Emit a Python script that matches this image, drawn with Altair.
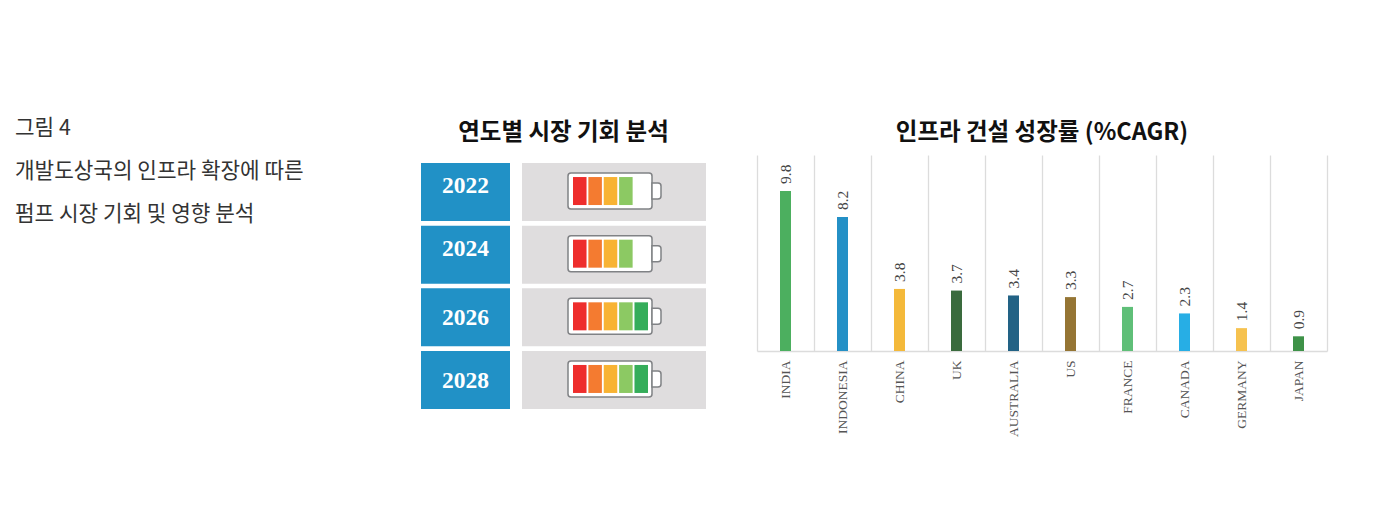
import altair as alt
import pandas as pd

note_lines = ["그림 4", "개발도상국의 인프라 확장에 따른", "펌프 시장 기회 및 영향 분석"]
years = ["2022", "2024", "2026", "2028"]
levels = [4, 4, 5, 5]
segment_ids = [1, 2, 3, 4, 5]
segment_colors = ["#EE2D2C", "#F47B30", "#F8B333", "#8CC963", "#35AD5A"]
countries = ["INDIA", "INDONESIA", "CHINA", "UK", "AUSTRALIA", "US", "FRANCE", "CANADA", "GERMANY", "JAPAN"]
growth = [9.8, 8.2, 3.8, 3.7, 3.4, 3.3, 2.7, 2.3, 1.4, 0.9]
bar_colors = ["#4CAF5F", "#2490C6", "#F4B93A", "#3A6B3D", "#226285", "#957534", "#5FBF78", "#27AEE5", "#F6C24F", "#3E9248"]

KR = "Noto Sans CJK KR"
SERIF = "Liberation Serif"

# left note
note_df = pd.DataFrame({"line": list(range(len(note_lines))), "text": note_lines})
note = alt.Chart(note_df).mark_text(
    font=KR, fontSize=21.3, color="#333333", align="left", baseline="middle"
).encode(
    x=alt.value(7),
    y=alt.Y("line:O", axis=None, scale=alt.Scale(type="point", range=[-26, 60], padding=0)),
    text="text:N",
).properties(width=362, height=254)

# battery panel
year_df = pd.DataFrame({"year": years, "level": levels})
seg_df = pd.DataFrame(
    [{"year": y, "segment": s} for y, n in zip(years, levels) for s in segment_ids[:n]]
)
row_scale = alt.Scale(type="band", domain=years, range=[8, 254], paddingInner=0.073, paddingOuter=0)
Y = alt.Y("year:O", axis=None, scale=row_scale)

base = alt.Chart(year_df)
blue = base.mark_bar(color="#2191C6").encode(x=alt.value(0), x2=alt.value(89), y=Y)
gray = base.mark_bar(color="#DFDDDE").encode(x=alt.value(101), x2=alt.value(285), y=Y)
body = base.mark_bar(height=36, yOffset=-1, cornerRadius=3, fill="#FFFFFF", stroke="#808285", strokeWidth=1.5).encode(
    x=alt.value(147), x2=alt.value(231), y=Y
)
cap = base.mark_bar(height=16, yOffset=-1, cornerRadiusTopRight=3, cornerRadiusBottomRight=3,
                    fill="#FFFFFF", stroke="#808285", strokeWidth=1.5).encode(
    x=alt.value(231), x2=alt.value(240), y=Y
)
segments = alt.Chart(seg_df).mark_bar(height=28, yOffset=-1).encode(
    x=alt.X("segment:O", axis=None,
            scale=alt.Scale(type="band", domain=segment_ids, range=[152, 227], paddingInner=0.12, paddingOuter=0)),
    y=Y,
    color=alt.Color("segment:O", legend=None, scale=alt.Scale(domain=segment_ids, range=segment_colors)),
)
label_style = dict(font=SERIF, fontSize=23.5, fontWeight="bold", color="#FFFFFF", align="center", baseline="middle")
labels_hi = alt.Chart(year_df[year_df.year.isin(["2022", "2024"])]).mark_text(dy=-6, **label_style).encode(
    x=alt.value(44.5), y=Y, text="year:N")
labels_lo = alt.Chart(year_df[year_df.year.isin(["2026", "2028"])]).mark_text(dy=1, **label_style).encode(
    x=alt.value(44.5), y=Y, text="year:N")

title_style = dict(font=KR, fontSize=23.5, fontWeight="bold", color="#111111", anchor="middle", offset=11)
battery = alt.layer(blue, gray, body, cap, segments, labels_hi, labels_lo).resolve_scale(color="independent").properties(
    width=285, height=254, title=alt.Title("연도별 시장 기회 분석", **title_style)
)

# growth bars
bar_df = pd.DataFrame({"country": countries, "growth": growth})
X = alt.X("country:N", sort=countries, title=None, scale=alt.Scale(paddingInner=0, paddingOuter=0),
          axis=alt.Axis(grid=True, gridColor="#DCDCDC", gridWidth=1.3, tickBand="extent", ticks=False,
                        domainColor="#DCDCDC", domainWidth=1.3, labelAngle=270, labelFont=SERIF, labelFontSize=13.5,
                        labelColor="#555555", labelPadding=9))
YV = alt.Y("growth:Q", axis=None, scale=alt.Scale(domain=[0, 12]))
bars = alt.Chart(bar_df).mark_bar(width=11).encode(
    x=X, y=YV,
    color=alt.Color("country:N", legend=None, scale=alt.Scale(domain=countries, range=bar_colors)),
)
values = alt.Chart(bar_df).mark_text(font=SERIF, fontSize=15.5, color="#444444", angle=270, align="left",
                                     baseline="middle", dx=7).encode(
    x=alt.X("country:N", sort=countries), y=YV, text=alt.Text("growth:Q", format=".1f"))
growth_chart = alt.layer(bars, values).properties(
    width=570, height=196, title=alt.Title("인프라 건설 성장률 (%CAGR)", **title_style)
)

chart = alt.hconcat(note, battery, growth_chart, spacing=51, bounds="flush").properties(
    padding={"left": 0, "top": 110, "right": 40, "bottom": 10},
    background="#FFFFFF",
).configure_view(stroke=None)

chart.save("out.html", embed_options={"renderer": "svg", "actions": False})
